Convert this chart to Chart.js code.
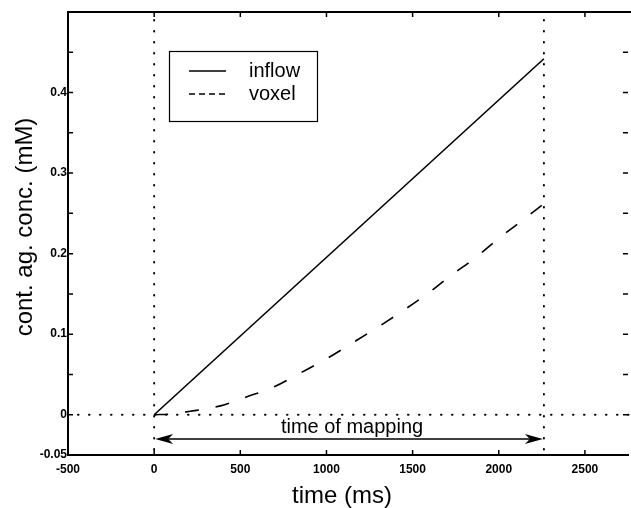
<!DOCTYPE html>
<html>
<head>
<meta charset="utf-8">
<script src="https://cdn.jsdelivr.net/npm/chart.js@4"></script>
<style>
  html, body { margin: 0; padding: 0; background: #fff; }
</style>
</head>
<body>
<canvas id="myChart" width="631" height="508"></canvas>
<script>
// data
const inflowTime = [0, 2262];
const inflowConc = [0, 0.442];

const voxelTime = [0, 100, 200, 385, 535, 700, 850, 1005, 1150, 1300, 1450, 1590, 1730, 1865, 2000, 2135, 2262];
const voxelConc = [0, 0.001, 0.004, 0.011, 0.022, 0.035, 0.052, 0.070, 0.089, 0.109, 0.130, 0.151, 0.174, 0.195, 0.219, 0.241, 0.262];

const mappingStart = 0;
const mappingEnd = 2262;
const arrowLevel = -0.03;

const xTicks = [-500, 0, 500, 1000, 1500, 2000, 2500];
const yTicks = [-0.05, 0, 0.1, 0.2, 0.3, 0.4];
const yMinorTicks = [0.05, 0.15, 0.25, 0.35, 0.45];

const seriesLabels = ['inflow', 'voxel'];

function toPoints(xs, ys) {
    return xs.map((x, i) => ({ x: x, y: ys[i] }));
}

const FONT = "'Liberation Sans', Arial, Helvetica, sans-serif";

// extra drawing: dotted guides, frame ticks, arrow, legend, titles
const figurePlugin = {
    id: 'figure',
    beforeDatasetsDraw(chart) {
        const ctx = chart.ctx;
        const a = chart.chartArea;
        const x = chart.scales.x, y = chart.scales.y;
        ctx.save();
        ctx.strokeStyle = '#000';
        ctx.lineWidth = 2;
        ctx.lineCap = 'round';
        ctx.setLineDash([0.5, 10.5]);
        // zero line
        const y0 = y.getPixelForValue(0);
        ctx.beginPath();
        ctx.moveTo(a.left + 10, y0);
        ctx.lineTo(a.right + 3, y0);
        ctx.stroke();
        // vertical markers
        [mappingStart, mappingEnd].forEach(v => {
            const px = x.getPixelForValue(v);
            ctx.beginPath();
            ctx.moveTo(px, a.top + 8);
            ctx.lineTo(px, a.bottom);
            ctx.stroke();
        });
        ctx.restore();
    },
    afterDraw(chart) {
        const ctx = chart.ctx;
        const a = chart.chartArea;
        const x = chart.scales.x, y = chart.scales.y;
        ctx.save();
        ctx.strokeStyle = '#000';
        ctx.fillStyle = '#000';

        // top frame line
        ctx.lineWidth = 2;
        ctx.beginPath();
        ctx.moveTo(a.left, a.top);
        ctx.lineTo(a.right + 3, a.top);
        ctx.stroke();

        // inward ticks
        ctx.lineWidth = 1.5;
        const tl = 5;
        xTicks.forEach(v => {
            const px = x.getPixelForValue(v);
            ctx.beginPath();
            ctx.moveTo(px, a.bottom); ctx.lineTo(px, a.bottom - tl);
            ctx.moveTo(px, a.top); ctx.lineTo(px, a.top + tl);
            ctx.stroke();
        });
        yTicks.concat(yMinorTicks).forEach(v => {
            const py = y.getPixelForValue(v);
            ctx.beginPath();
            ctx.moveTo(a.left, py); ctx.lineTo(a.left + tl, py);
            ctx.moveTo(a.right, py); ctx.lineTo(a.right - tl, py);
            ctx.stroke();
        });

        // double arrow for mapping time
        const ay = y.getPixelForValue(arrowLevel);
        const ax1 = x.getPixelForValue(mappingStart) + 1;
        const ax2 = x.getPixelForValue(mappingEnd) - 1;
        ctx.lineWidth = 1.5;
        ctx.beginPath();
        ctx.moveTo(ax1 + 10, ay);
        ctx.lineTo(ax2 - 10, ay);
        ctx.stroke();
        function head(tipX, dir) {
            ctx.beginPath();
            ctx.moveTo(tipX, ay);
            ctx.lineTo(tipX + dir * 18, ay - 5);
            ctx.lineTo(tipX + dir * 13, ay);
            ctx.lineTo(tipX + dir * 18, ay + 5);
            ctx.closePath();
            ctx.fill();
        }
        head(ax1, 1);
        head(ax2, -1);

        ctx.font = '20px ' + FONT;
        ctx.textAlign = 'center';
        ctx.textBaseline = 'alphabetic';
        ctx.fillText('time of mapping', (ax1 + ax2) / 2 + 3, 433);

        // legend
        ctx.lineWidth = 1.2;
        ctx.setLineDash([]);
        ctx.strokeRect(169.5, 51.5, 148, 70);
        const ds = chart.data.datasets;
        const rows = [71, 94];
        ds.forEach((d, i) => {
            ctx.lineWidth = 1.5;
            ctx.setLineDash(i === 0 ? [] : [6, 4]);
            ctx.beginPath();
            ctx.moveTo(189, rows[i]);
            ctx.lineTo(226, rows[i]);
            ctx.stroke();
            ctx.setLineDash([]);
            ctx.font = '20px ' + FONT;
            ctx.textAlign = 'left';
            ctx.textBaseline = 'alphabetic';
            ctx.fillText(d.label, 249, rows[i] + 6);
        });

        // axis titles
        ctx.font = '24px ' + FONT;
        ctx.textAlign = 'center';
        ctx.fillText('time (ms)', 342, 503);
        ctx.translate(32, 227);
        ctx.rotate(-Math.PI / 2);
        ctx.fillText('cont. ag. conc. (mM)', 0, 0);
        ctx.restore();
    }
};

const ctx = document.getElementById('myChart').getContext('2d');

const myChart = new Chart(ctx, {
    type: 'line',
    data: {
        datasets: [{
            label: seriesLabels[0],
            data: toPoints(inflowTime, inflowConc),
            borderColor: '#000',
            borderWidth: 1.6,
            pointRadius: 0,
            tension: 0,
            fill: false
        }, {
            label: seriesLabels[1],
            data: toPoints(voxelTime, voxelConc),
            borderColor: '#000',
            borderWidth: 1.6,
            borderDash: [14, 17],
            pointRadius: 0,
            cubicInterpolationMode: 'monotone',
            fill: false
        }]
    },
    options: {
        responsive: false,
        animation: false,
        layout: {
            padding: { top: 12, right: 3, left: 0, bottom: 0 }
        },
        plugins: {
            legend: { display: false },
            tooltip: { enabled: false }
        },
        scales: {
            x: {
                type: 'linear',
                min: -500,
                max: 2750,
                afterBuildTicks: s => { s.ticks = xTicks.map(v => ({ value: v })); },
                afterFit: s => { s.height = 53; },
                grid: { display: false, drawTicks: false },
                border: { display: true, color: '#000', width: 2 },
                ticks: {
                    padding: 7,
                    maxRotation: 0,
                    autoSkip: false,
                    color: '#000',
                    font: { family: FONT, size: 12, weight: 'bold' },
                    callback: v => String(v)
                }
            },
            y: {
                type: 'linear',
                min: -0.05,
                max: 0.5,
                afterBuildTicks: s => { s.ticks = yTicks.map(v => ({ value: v })); },
                afterFit: s => { s.width = 68; },
                grid: { display: false, drawTicks: false },
                border: { display: true, color: '#000', width: 2 },
                ticks: {
                    padding: 1,
                    autoSkip: false,
                    color: '#000',
                    font: { family: FONT, size: 12, weight: 'bold' },
                    callback: v => String(v)
                }
            }
        }
    },
    plugins: [figurePlugin]
});
</script>
</body>
</html>
